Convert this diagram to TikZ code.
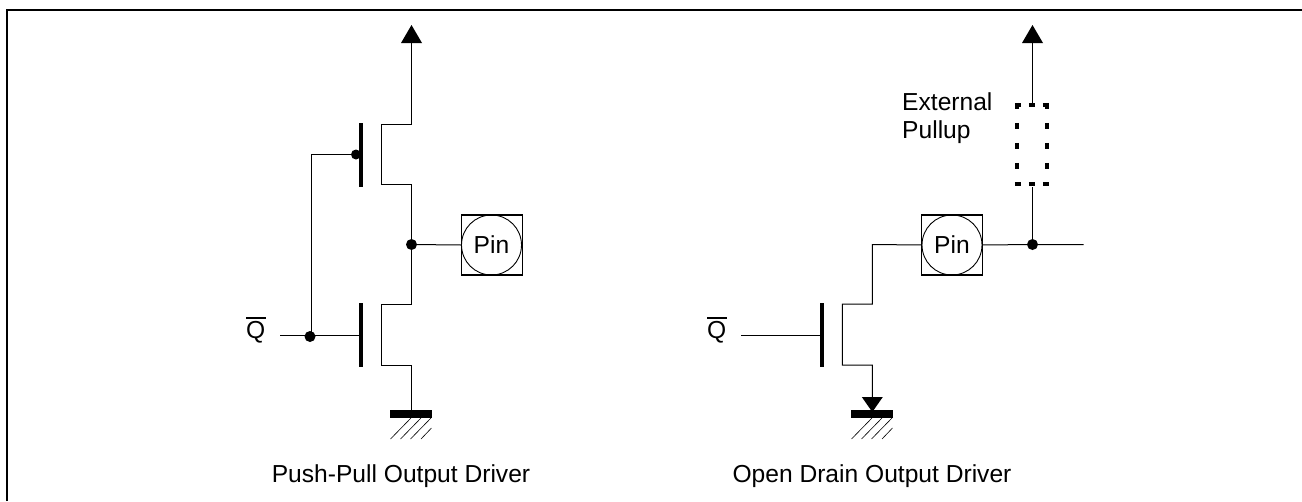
\documentclass[tikz,border=0pt]{standalone}
\usepackage{fontspec}
\setmainfont{Liberation Sans}
\tikzset{
  x=1pt,y=-1pt,
  wire/.style={line width=1pt,line cap=rect},
  gatebar/.style={line width=4pt},
  dotnode/.style={circle,fill=black,inner sep=0pt,minimum size=11pt},
  bubble/.style={circle,fill=black,inner sep=0pt,minimum size=10pt},
  pinsq/.style={draw,line width=1.4pt,minimum width=60.5pt,minimum height=60pt,inner sep=0pt},
  pincirc/.style={draw,circle,line width=0.9pt,minimum size=60pt,inner sep=0pt,font=\fontsize{24.6}{28}\selectfont},
  lab/.style={inner sep=0pt,font=\fontsize{24.6}{28}\selectfont},
  bar/.style={fill=black,draw=none,minimum width=42pt,minimum height=8pt,inner sep=0pt},
  hatch/.style={line width=0.6pt},
  tri/.style={fill=black,draw=none},
  dots/.style={line width=4.5pt}
}
\newcommand{\hatchset}[1]{%
  \foreach \d in {0,10,20}{\draw[hatch] (#1-20.5+\d,439) -- (#1-20.5+\d+20.5,418);}%
  \draw[hatch] (#1-20.5+30.5,439) -- (#1+20.5,428);}
\newcommand{\qbar}{\makebox[0pt][l]{\raisebox{20pt}{\rule{20pt}{1.3pt}}}Q}
\begin{document}
\begin{tikzpicture}
\useasboundingbox (0,0) rectangle (1302,501);
\draw[line width=2pt] (7,501) -- (7,10) -- (1302,10);
% Push-pull
\coordinate (vdd1) at (411.5,43);
\coordinate (ptop) at (411.5,124);
\coordinate (pd1) at (381.5,124);
\coordinate (pd2) at (381.5,184);
\coordinate (pbot) at (411.5,184);
\coordinate (ntop) at (411.5,304);
\coordinate (nd1) at (381.5,304);
\coordinate (nd2) at (381.5,365);
\coordinate (nbot) at (411.5,365);
\node[bar] (gnd1) at (411,414) {};
\node[dotnode] (j1) at (411.5,244.5) {};
\node[dotnode] (j2) at (310,336.5) {};
\node[bubble] (b1) at (356,154.5) {};
\coordinate (g1top) at (361,123);
\coordinate (g1bot) at (361,187);
\coordinate (g2top) at (361,303);
\coordinate (g2bot) at (361,367);
\coordinate (g2mid) at (361,335.5);
\coordinate (qs1) at (280,335.5);
\coordinate (corner1) at (311.5,154.5);
\fill[tri] (411.5,25) -- (422,43) -- (401,43) -- cycle;
\draw[wire] (vdd1) -- (ptop) -- (pd1) -- (pd2) -- (pbot) -- (j1) -- (ntop) -- (nd1) -- (nd2) -- (nbot) -- (gnd1.north -| nbot);
\draw[gatebar] (g1top) -- (g1bot);
\draw[gatebar] (g2top) -- (g2bot);
\draw[wire] (qs1) -- (g2mid);
\draw[wire] (b1) -- (corner1) -- (corner1 |- j2);
\node[pinsq] (sq1) at (492,245) {};
\node[pincirc] (pin1) at (491.5,245) {Pin};
\draw[wire] (j1) -- (pin1.west);
\node[lab,anchor=base west] (q1) at (246,338.5) {\qbar};
\hatchset{411}
\node[lab,anchor=base] (t1) at (401,482.7) {Push-Pull Output Driver};
% Open drain
\coordinate (c2) at (872.3,244.5);
\coordinate (mtop) at (872.3,304);
\coordinate (md1) at (842.3,304);
\coordinate (md2) at (842.3,365);
\coordinate (mbot) at (872.3,365);
\coordinate (h1) at (821.7,303);
\coordinate (h2) at (821.7,367);
\coordinate (hm) at (821.7,335.5);
\coordinate (qs2) at (741,335.5);
\node[bar] (gnd2) at (872,414) {};
\node[pinsq] (sq2) at (952,245) {};
\node[pincirc] (pin2) at (952,245) {Pin};
\node[dotnode] (j3) at (1032.5,244.5) {};
\coordinate (out) at (1083,244.5);
\node[minimum width=30pt,minimum height=79pt,inner sep=0pt] (pull) at (1032,144.5) {};
\coordinate (vdd2) at (1032.5,43);
\fill[tri] (1032.5,25) -- (1043,43) -- (1022,43) -- cycle;
\draw[wire] (pin2.west) -- (c2) -- (mtop) -- (md1) -- (md2) -- (mbot) -- (872.3,400);
\fill[tri] (861.8,397) -- (882.8,397) -- (872.3,412) -- cycle;
\draw[gatebar] (h1) -- (h2);
\draw[wire] (qs2) -- (hm);
\draw[wire] (pin2.east) -- (j3) -- (out);
\draw[wire] (j3) -- (1032.5,187);
\draw[wire] (vdd2) -- (1032.5,104);
\draw[dots,dash pattern=on 6pt off 8pt] ([xshift=-2pt]pull.north west) -- ([xshift=2pt]pull.north east);
\draw[dots,dash pattern=on 6pt off 8pt] ([xshift=-2pt]pull.south west) -- ([xshift=2pt]pull.south east);
\draw[dots,dash pattern=on 6pt off 14pt] ([yshift=2pt]pull.north west) -- ([yshift=-2pt]pull.south west);
\draw[dots,dash pattern=on 6pt off 14pt] ([yshift=2pt]pull.north east) -- ([yshift=-2pt]pull.south east);
\node[lab,anchor=base west] (q2) at (707,338.5) {\qbar};
\hatchset{872}
\node[lab,anchor=base west] (e1) at (902,110) {External};
\node[lab,anchor=base west] (e2) at (902,138) {Pullup};
\node[lab,anchor=base] (t2) at (872,482.7) {Open Drain Output Driver};
\end{tikzpicture}
\end{document}
